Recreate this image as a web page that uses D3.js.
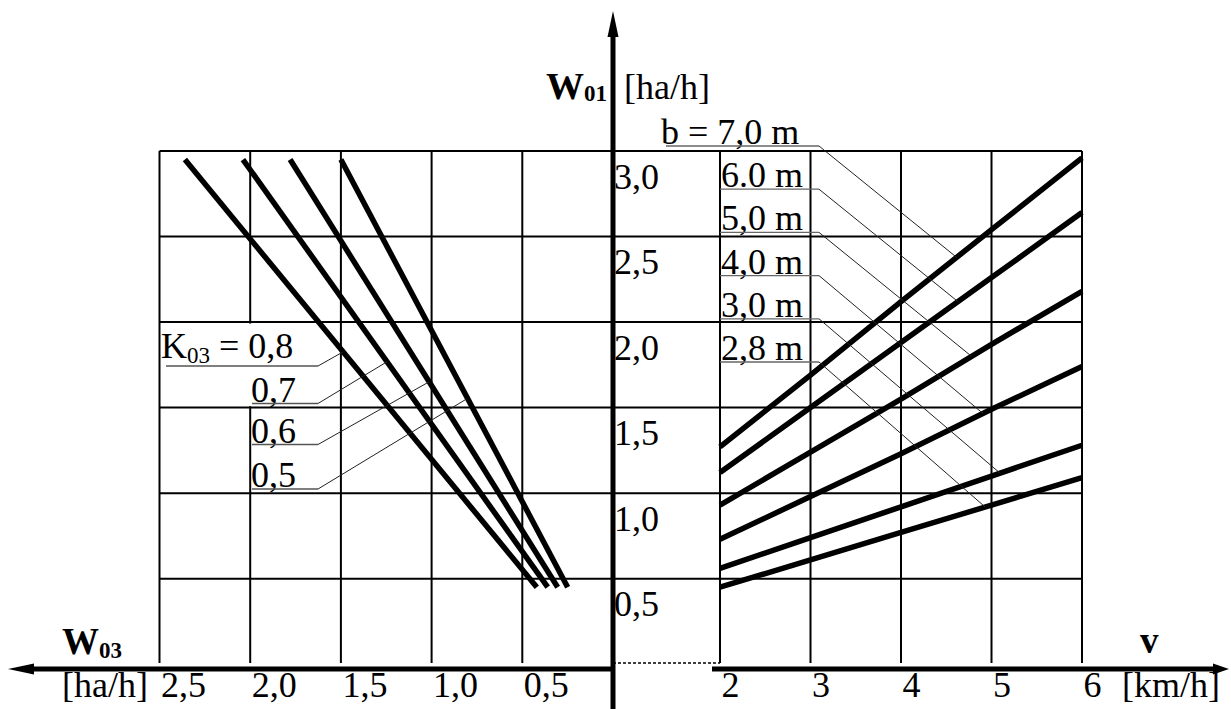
<!DOCTYPE html>
<html><head><meta charset="utf-8">
<script src="https://cdn.jsdelivr.net/npm/d3@7"></script>
<style>body{margin:0;background:#fff}svg text{font-family:"Liberation Serif","Times New Roman",serif;fill:#000}</style>
</head><body>
<script>
// ---------- data ----------
const speedV = [2, 3, 4, 5, 6];
const widthLabels = ["b = 7,0 m", "6.0 m", "5,0 m", "4,0 m", "3,0 m", "2,8 m"];
const w01_b70 = [1.27, 1.69, 2.12, 2.54, 2.96];
const w01_b60 = [1.12, 1.50, 1.88, 2.26, 2.64];
const w01_b50 = [0.93, 1.24, 1.55, 1.87, 2.18];
const w01_b40 = [0.73, 0.98, 1.23, 1.49, 1.74];
const w01_b30 = [0.56, 0.74, 0.92, 1.10, 1.28];
const w01_b28 = [0.45, 0.61, 0.77, 0.93, 1.09];

const kLabels = ["0,8", "0,7", "0,6", "0,5"];
const kW01Ends = [0.45, 2.95];
const w03_k08 = [0.42, 2.36];
const w03_k07 = [0.36, 2.04];
const w03_k06 = [0.305, 1.78];
const w03_k05 = [0.25, 1.50];

const w01Ticks = [0.5, 1.0, 1.5, 2.0, 2.5, 3.0];
const w01TickLabels = ["0,5", "1,0", "1,5", "2,0", "2,5", "3,0"];
const w03Ticks = [2.5, 2.0, 1.5, 1.0, 0.5];
const w03TickLabels = ["2,5", "2,0", "1,5", "1,0", "0,5"];
const vTicks = [2, 3, 4, 5, 6];
const vTickLabels = ["2", "3", "4", "5", "6"];

// where each leader line touches its curve
const bLeaderV = [4.615, 4.63, 4.78, 4.906, 5.094, 4.93];
const kLeaderW01 = [1.826, 1.768, 1.651, 1.554];

// ---------- layout ----------
const W = 1231, H = 709;
const axisX = 613, axisY = 669;
const FS = 35, SUB = 23;

const yW01 = d3.scaleLinear().domain([0, 3]).range([664.2, 151]);
const xV = d3.scaleLinear().domain([2, 6]).range([720, 1082]);
const xW03 = d3.scaleLinear().domain([0, 2.5]).range([axisX, 159.5]);
const gridBottom = 663;

const svg = d3.select("body").append("svg").attr("width", W).attr("height", H);

// ---------- grid ----------
const grid = svg.append("g").attr("stroke", "#000").attr("stroke-width", 2);
grid.selectAll("line.h").data(w01Ticks).join("line")
  .attr("x1", xW03(2.5)).attr("x2", xV(6))
  .attr("y1", d => yW01(d)).attr("y2", d => yW01(d));
grid.selectAll("line.vr").data(vTicks).join("line")
  .attr("x1", d => xV(d)).attr("x2", d => xV(d))
  .attr("y1", yW01(3)).attr("y2", gridBottom);
grid.selectAll("line.vl").data(w03Ticks).join("line")
  .attr("x1", d => xW03(d)).attr("x2", d => xW03(d))
  .attr("y1", yW01(3)).attr("y2", gridBottom);
// gap of the 2,0 column behind the K labels
svg.append("rect").attr("x", xW03(2.0) - 3).attr("y", yW01(2.0) + 1.5)
  .attr("width", 6).attr("height", yW01(1.5) - yW01(2.0) - 3).attr("fill", "#fff");
// dashed zero line
svg.append("line").attr("x1", axisX).attr("x2", xV(2)).attr("y1", gridBottom).attr("y2", gridBottom)
  .attr("stroke", "#000").attr("stroke-width", 1.3).attr("stroke-dasharray", "3,2");

// ---------- curves ----------
const bSeries = [w01_b70, w01_b60, w01_b50, w01_b40, w01_b30, w01_b28];
const kSeries = [w03_k08, w03_k07, w03_k06, w03_k05];
const lineR = d3.line().x((d, i) => xV(speedV[i])).y(d => yW01(d));
const lineL = d3.line().x(d => xW03(d)).y((d, i) => yW01(kW01Ends[i]));
svg.append("g").selectAll("path").data(bSeries).join("path")
  .attr("d", lineR).attr("fill", "none").attr("stroke", "#000").attr("stroke-width", 5.5);
svg.append("g").selectAll("path").data(kSeries).join("path")
  .attr("d", lineL).attr("fill", "none").attr("stroke", "#000").attr("stroke-width", 5.5);

// ---------- right labels with leaders ----------
const rl = svg.append("g");
widthLabels.forEach((lab, i) => {
  const uy = 146 + i * 43.2;
  const tx = i === 0 ? 661 : 721;
  const ux = i === 0 ? 666 : 720;
  const ux2 = 819;
  rl.append("text").attr("x", tx).attr("y", uy - 2).attr("font-size", FS + 1).text(lab);
  rl.append("line").attr("x1", ux).attr("x2", ux2).attr("y1", uy).attr("y2", uy)
    .attr("stroke", "#666").attr("stroke-width", 1.3);
  const s = bSeries[i];
  const vy = d3.scaleLinear().domain(speedV).range(s)(bLeaderV[i]);
  rl.append("line").attr("x1", ux2).attr("y1", uy).attr("x2", xV(bLeaderV[i])).attr("y2", yW01(vy))
    .attr("stroke", "#222").attr("stroke-width", 1);
});

// ---------- left labels with leaders ----------
const ll = svg.append("g");
const kBase = [358, 401.5, 442.5, 486.5];
const kUnder = [366, 403.5, 444.5, 489];
kLabels.forEach((lab, i) => {
  const ux1 = i === 0 ? 166 : 252, ux2 = 318;
  if (i === 0) {
    const t = ll.append("text").attr("x", 161).attr("y", kBase[i]).attr("font-size", FS + 1);
    t.append("tspan").text("K");
    t.append("tspan").attr("font-size", SUB).attr("dy", 5).text("03");
    t.append("tspan").attr("dy", -5).text(" = " + lab);
  } else {
    ll.append("text").attr("x", 251).attr("y", kBase[i]).attr("font-size", FS + 1).text(lab);
  }
  ll.append("line").attr("x1", ux1).attr("x2", ux2).attr("y1", kUnder[i]).attr("y2", kUnder[i])
    .attr("stroke", "#555").attr("stroke-width", 1.3);
  const s = kSeries[i];
  const wx = d3.scaleLinear().domain(kW01Ends).range(s)(kLeaderW01[i]);
  ll.append("line").attr("x1", ux2).attr("y1", kUnder[i]).attr("x2", xW03(wx)).attr("y2", yW01(kLeaderW01[i]))
    .attr("stroke", "#222").attr("stroke-width", 1);
});

// ---------- tick labels via d3 axes ----------
const ay = svg.append("g").attr("transform", `translate(${axisX},0)`)
  .call(d3.axisRight(yW01).tickValues(w01Ticks).tickSize(0)
    .tickFormat((d, i) => w01TickLabels[i]));
ay.select(".domain").remove();
ay.selectAll("text").attr("x", 1).attr("dy", 37).attr("font-size", FS + 1)
  .attr("font-family", "Liberation Serif").attr("text-anchor", "start");

const axL = svg.append("g").attr("transform", `translate(0,${axisY})`)
  .call(d3.axisBottom(xW03).tickValues(w03Ticks).tickSize(0)
    .tickFormat((d, i) => w03TickLabels[i]));
axL.select(".domain").remove();
axL.selectAll("text").attr("y", 0).attr("dy", 28).attr("x", 1).attr("font-size", FS + 1)
  .attr("font-family", "Liberation Serif").attr("text-anchor", "start");

const axR = svg.append("g").attr("transform", `translate(0,${axisY})`)
  .call(d3.axisBottom(xV).tickValues(vTicks).tickSize(0)
    .tickFormat((d, i) => vTickLabels[i]));
axR.select(".domain").remove();
axR.selectAll("text").attr("y", 0).attr("dy", 28).attr("x", 1).attr("font-size", FS + 1)
  .attr("font-family", "Liberation Serif").attr("text-anchor", "start");

// ---------- axes lines & arrows ----------
const ax = svg.append("g");
ax.append("line").attr("x1", axisX).attr("x2", axisX).attr("y1", 30).attr("y2", H)
  .attr("stroke", "#000").attr("stroke-width", 5);
ax.append("path").attr("d", `M${axisX},11 L${axisX - 5.5},37 L${axisX + 5.5},37 Z`).attr("fill", "#000");
ax.append("line").attr("x1", 28).attr("x2", axisX).attr("y1", axisY).attr("y2", axisY)
  .attr("stroke", "#000").attr("stroke-width", 5);
ax.append("path").attr("d", `M8,${axisY} L34,${axisY - 5.5} L34,${axisY + 5.5} Z`).attr("fill", "#000");
ax.append("line").attr("x1", 712).attr("x2", 1216).attr("y1", axisY).attr("y2", axisY)
  .attr("stroke", "#000").attr("stroke-width", 5);
ax.append("path").attr("d", `M1229,${axisY} L1213,${axisY - 5.5} L1213,${axisY + 5.5} Z`).attr("fill", "#000");

// ---------- axis titles ----------
const t1 = svg.append("text").attr("x", 607).attr("y", 99).attr("font-size", FS + 3)
  .attr("font-weight", "bold").attr("text-anchor", "end");
t1.append("tspan").text("W");
t1.append("tspan").attr("font-size", SUB).attr("dy", 2).text("01");
svg.append("text").attr("x", 624).attr("y", 99).attr("font-size", FS + 1).text("[ha/h]");

const t3 = svg.append("text").attr("x", 62).attr("y", 654).attr("font-size", FS + 2).attr("font-weight", "bold");
t3.append("tspan").text("W");
t3.append("tspan").attr("font-size", SUB).attr("dy", 4).text("03");
svg.append("text").attr("x", 62).attr("y", axisY + 28).attr("font-size", FS + 1).text("[ha/h]");

svg.append("text").attr("x", 1140).attr("y", 653).attr("font-size", FS + 2).attr("font-weight", "bold").text("v");
svg.append("text").attr("x", 1122).attr("y", axisY + 28).attr("font-size", FS + 1).text("[km/h]");
</script>
</body></html>
